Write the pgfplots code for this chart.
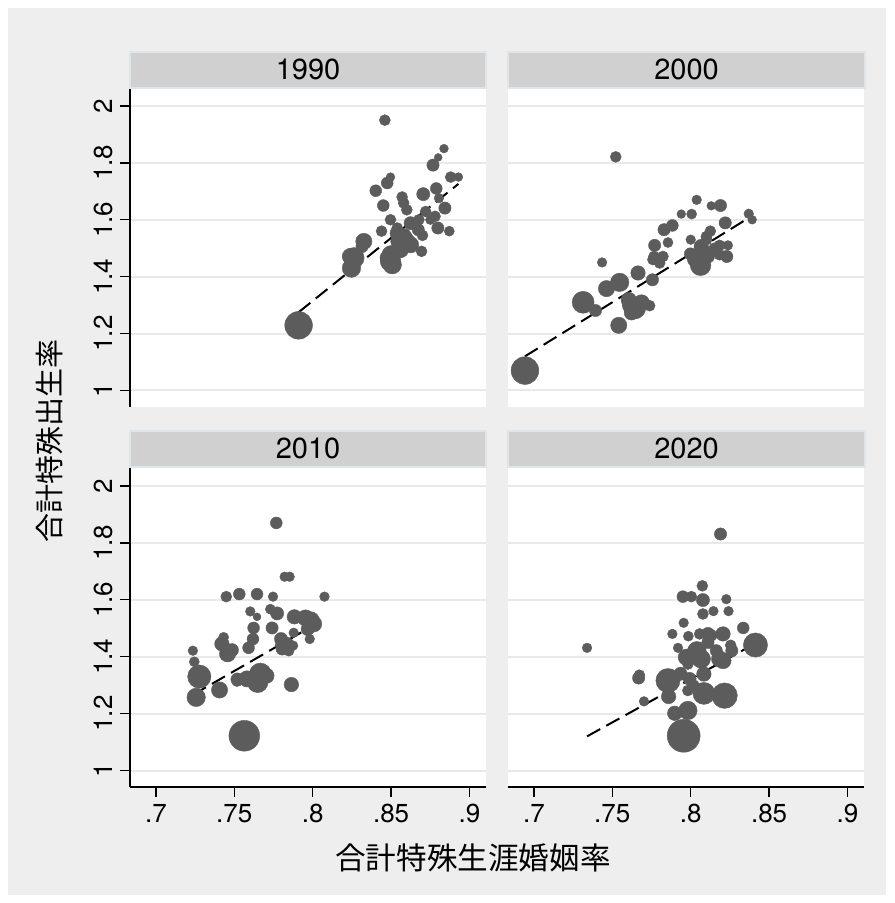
\documentclass[border=0pt]{standalone}
\usepackage{pgfplots}
\pgfplotsset{compat=1.18}
\usepackage{pgfplotstable}
\usepackage{fontspec}
\setmainfont{TeX Gyre Heros}
\newfontfamily\cjk{Noto Sans CJK JP}

\definecolor{outerbg}{RGB}{238,238,238}
\definecolor{stripfill}{RGB}{208,208,208}
\definecolor{stripedge}{RGB}{222,229,235}
\definecolor{gridc}{RGB}{233,233,233}
\definecolor{dotc}{RGB}{92,92,92}

% x: lifetime marriage rate, y: total fertility rate, r: marker radius (pt, population weight)
\pgfplotstableread{
x y r
0.791 1.229 6.3
0.846 1.950 2.5
0.8837 1.850 2.0
0.880 1.819 1.8
0.8767 1.792 2.8
0.888 1.750 2.5
0.8929 1.750 2.0
0.8496 1.750 2.0
0.8475 1.729 2.7
0.8402 1.702 2.7
0.8705 1.690 3.0
0.8788 1.710 2.7
0.857 1.680 2.5
0.845 1.650 2.7
0.858 1.659 2.5
0.860 1.635 2.5
0.8805 1.676 2.2
0.8843 1.641 2.8
0.878 1.612 2.5
0.872 1.629 2.5
0.8496 1.600 2.5
0.8624 1.588 3.0
0.8439 1.560 2.5
0.8798 1.571 2.8
0.8871 1.560 2.3
0.8539 1.571 2.5
0.8673 1.565 2.8
0.858 1.541 3.7
0.8539 1.524 3.0
0.8624 1.512 3.7
0.857 1.506 3.3
0.8694 1.489 2.5
0.8326 1.524 3.7
0.8315 1.506 2.8
0.8262 1.466 4.7
0.8247 1.430 4.2
0.850 1.477 4.2
0.8507 1.442 4.2
0.8475 1.466 3.3
0.8677 1.600 2.5
0.8539 1.553 3.3
0.8592 1.524 4.2
0.856 1.495 3.7
0.8496 1.455 4.7
0.824 1.471 3.7
0.870 1.545 2.5
0.875 1.600 2.2
}\dataA

\pgfplotstableread{
x y r
0.6943 1.070 6.3
0.7522 1.821 2.5
0.8038 1.670 2.2
0.8131 1.649 2.0
0.819 1.650 2.8
0.794 1.620 2.0
0.8006 1.620 2.3
0.837 1.621 2.2
0.8392 1.600 2.0
0.822 1.589 2.8
0.7883 1.580 2.7
0.783 1.565 2.8
0.8125 1.560 2.5
0.800 1.530 2.2
0.8101 1.530 2.5
0.777 1.510 2.8
0.8184 1.510 2.5
0.8237 1.510 2.2
0.8067 1.506 3.3
0.7766 1.471 2.5
0.7823 1.471 2.5
0.823 1.471 2.8
0.8025 1.460 3.3
0.811 1.471 3.0
0.8063 1.440 4.7
0.7802 1.448 2.5
0.7435 1.450 2.2
0.7664 1.413 3.3
0.7756 1.389 2.8
0.7547 1.380 4.2
0.7463 1.358 3.7
0.7314 1.310 5.0
0.7393 1.281 2.8
0.7643 1.290 5.0
0.7686 1.308 3.7
0.7738 1.298 2.5
0.7622 1.273 3.3
0.7541 1.229 3.7
0.7759 1.460 2.5
0.810 1.541 2.5
0.8078 1.489 3.3
0.8184 1.477 2.5
0.762 1.300 4.0
0.7998 1.480 2.8
0.815 1.500 2.5
0.7605 1.318 3.5
0.7855 1.520 2.3
}\dataB

\pgfplotstableread{
x y r
0.7564 1.122 7.0
0.7768 1.870 2.7
0.7821 1.681 2.2
0.7853 1.681 2.2
0.7449 1.611 2.5
0.7532 1.620 2.7
0.7645 1.620 2.7
0.7747 1.611 2.2
0.8075 1.611 2.2
0.7602 1.559 2.2
0.7645 1.540 1.8
0.773 1.567 2.3
0.7773 1.552 3.0
0.7883 1.540 3.3
0.7985 1.526 4.2
0.8006 1.515 3.7
0.7968 1.497 3.0
0.7879 1.484 2.2
0.7981 1.462 2.2
0.7623 1.501 2.7
0.7741 1.501 2.8
0.7619 1.462 2.7
0.7798 1.462 3.0
0.7837 1.445 3.0
0.7875 1.439 2.2
0.7805 1.427 2.8
0.7847 1.421 2.5
0.7591 1.431 2.7
0.7432 1.468 2.3
0.7421 1.445 3.3
0.7457 1.410 3.7
0.7236 1.421 2.2
0.7245 1.382 2.3
0.7277 1.330 5.3
0.7257 1.257 4.2
0.7406 1.283 3.7
0.7517 1.312 2.2
0.7581 1.322 3.7
0.7666 1.339 5.0
0.7649 1.310 4.7
0.7864 1.302 3.3
0.7954 1.536 3.7
0.7795 1.440 2.5
0.752 1.320 3.0
0.7815 1.455 2.3
0.7705 1.333 3.5
0.7485 1.423 3.0
}\dataC

\pgfplotstableread{
x y r
0.7955 1.122 7.5
0.819 1.831 2.8
0.7339 1.431 2.2
0.8074 1.649 2.5
0.795 1.611 2.7
0.8004 1.611 2.5
0.8078 1.599 3.0
0.8227 1.602 2.2
0.8241 1.560 2.2
0.8078 1.550 2.5
0.7955 1.519 2.2
0.7883 1.480 2.2
0.8057 1.480 2.5
0.811 1.480 3.0
0.8206 1.480 3.3
0.8335 1.501 2.7
0.811 1.450 2.8
0.7919 1.431 2.2
0.8163 1.421 2.8
0.8262 1.421 2.8
0.8413 1.441 5.5
0.8036 1.412 4.5
0.7972 1.398 3.7
0.8067 1.392 4.2
0.8206 1.386 3.7
0.7982 1.374 2.5
0.8084 1.339 3.3
0.7668 1.325 2.8
0.7855 1.316 5.5
0.7993 1.322 3.0
0.7982 1.281 2.5
0.8084 1.271 5.0
0.8216 1.263 5.8
0.7859 1.260 3.3
0.7702 1.243 2.2
0.7982 1.211 4.2
0.7898 1.201 3.3
0.804 1.421 4.2
0.8184 1.392 3.7
0.7673 1.335 2.5
0.813 1.475 2.7
0.7985 1.472 2.3
0.8255 1.440 2.5
0.802 1.300 2.5
0.7935 1.340 3.0
0.8005 1.395 3.0
0.8145 1.560 2.2
}\dataD

\pgfplotsset{
  panel/.style={
    scale only axis, width=178pt, height=159.5pt,
    anchor=south west,
    xmin=0.6835, xmax=0.9105, ymin=0.942, ymax=2.063,
    axis background/.style={fill=white},
    ymajorgrids, major grid style={draw=gridc, line width=1pt},
    xtick={0.7,0.75,0.8,0.85,0.9}, xticklabels={.7,.75,.8,.85,.9},
    ytick={1,1.2,1.4,1.6,1.8,2}, yticklabels={1,1.2,1.4,1.6,1.8,2},
    tick align=outside, major tick length=5pt,
    tick style={black, line width=0.7pt},
    axis line style={black, line width=0.7pt},
    axis x line*=bottom, axis y line*=left,
    ticklabel style={font=\fontsize{13}{13}\selectfont},
    yticklabel style={rotate=90, anchor=south},
  },
  noxaxis/.style={x axis line style={draw=none}, xtick style={draw=none}, xticklabels={}},
  noyaxis/.style={y axis line style={draw=none}, ytick style={draw=none}, yticklabels={}},
  bubbles/.style={
    scatter, only marks, mark=*,
    mark options={line width=0.2pt},
    point meta=\thisrow{r},
    scatter/use mapped color={draw=dotc, fill=dotc},
    visualization depends on={\thisrow{r}\as\rr},
    scatter/@pre marker code/.append style={/tikz/mark size={1.1*\rr}},
  },
  fitline/.style={black, line width=1pt, dash pattern=on 7.5pt off 3.5pt},
}

\begin{document}
\begin{tikzpicture}
  % page and graph region
  \fill[white] (0pt,0pt) rectangle (447pt,-451.5pt);
  \fill[outerbg] (4pt,-4pt) rectangle (443pt,-447.5pt);

  % 1990
  \begin{axis}[panel, noxaxis, at={(65pt,-203.5pt)}]
    \addplot[bubbles] table[x=x, y=y] {\dataA};
    \addplot[fitline] coordinates {(0.791,1.275) (0.8929,1.726)};
  \end{axis}
  % 2000
  \begin{axis}[panel, noxaxis, noyaxis, at={(254pt,-203.5pt)}]
    \addplot[bubbles] table[x=x, y=y] {\dataB};
    \addplot[fitline] coordinates {(0.6943,1.120) (0.8392,1.614)};
  \end{axis}
  % 2010
  \begin{axis}[panel, at={(65pt,-393.5pt)}]
    \addplot[bubbles] table[x=x, y=y] {\dataC};
    \addplot[fitline] coordinates {(0.7236,1.266) (0.8075,1.532)};
  \end{axis}
  % 2020
  \begin{axis}[panel, noyaxis, at={(254pt,-393.5pt)}]
    \addplot[bubbles] table[x=x, y=y] {\dataD};
    \addplot[fitline] coordinates {(0.7339,1.120) (0.8413,1.447)};
  \end{axis}

  % panel headers
  \tikzset{strip/.style={fill=stripfill, draw=stripedge, line width=1pt}}
  \tikzset{striptext/.style={font=\fontsize{14.5}{14.5}\selectfont, anchor=center}}
  \draw[strip] (65pt,-26pt) rectangle (243pt,-44pt);
  \draw[strip] (254pt,-26pt) rectangle (432.5pt,-44pt);
  \draw[strip] (65pt,-215.5pt) rectangle (243pt,-233.5pt);
  \draw[strip] (254pt,-215.5pt) rectangle (432.5pt,-233.5pt);
  \node[striptext] at (154pt,-34.5pt) {1990};
  \node[striptext] at (343.25pt,-34.5pt) {2000};
  \node[striptext] at (154pt,-224pt) {2010};
  \node[striptext] at (343.25pt,-224pt) {2020};

  % axis titles
  \node[font=\cjk\fontsize{14.5}{14.5}\selectfont, rotate=90] at (25pt,-220.5pt) {合計特殊出生率};
  \node[font=\cjk\fontsize{15.3}{15.3}\selectfont] at (236.5pt,-429pt) {合計特殊生涯婚姻率};
\end{tikzpicture}
\end{document}
